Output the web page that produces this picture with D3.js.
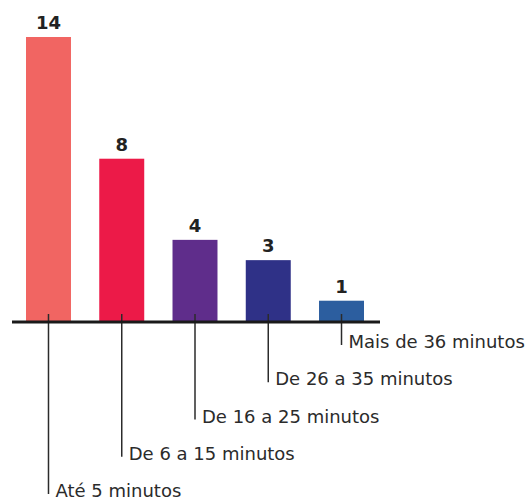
<html>
<head>
    <meta charset="utf-8">
    <script src="https://d3js.org/d3.v7.min.js"></script>
    <style>
        body { margin: 0; background: #fff; }
        text { font-family: "DejaVu Sans", sans-serif; }
    </style>
</head>
<body>
<div id="chart"></div>
<script>
// data
var categories = ["Até 5 minutos", "De 6 a 15 minutos", "De 16 a 25 minutos", "De 26 a 35 minutos", "Mais de 36 minutos"];
var values = [14, 8, 4, 3, 1];
var colors = ["#f16562", "#ec1a48", "#5f2d8b", "#2f3187", "#2c5e9f"];

var width = 530, height = 500;

var svg = d3.select("#chart")
    .append("svg")
    .attr("width", width)
    .attr("height", height);

var x = d3.scaleBand()
    .domain(categories)
    .range([26, 364])
    .paddingInner(0.386)
    .paddingOuter(0);

var y = d3.scaleLinear()
    .domain([0, 14])
    .range([321, 37]);

// row for each category label (last category on top)
var labelY = d3.scalePoint()
    .domain(categories.slice().reverse())
    .range([348, 497]);

var data = categories.map(function(c, i) {
    return {cat: c, value: values[i], color: colors[i]};
});

// bars
svg.selectAll("rect.bar")
    .data(data)
    .enter()
    .append("rect")
    .attr("class", "bar")
    .attr("x", function(d) { return x(d.cat); })
    .attr("y", function(d) { return y(d.value); })
    .attr("width", x.bandwidth())
    .attr("height", function(d) { return y(0) - y(d.value); })
    .style("fill", function(d) { return d.color; });

// value labels
svg.selectAll("text.value")
    .data(data)
    .enter()
    .append("text")
    .attr("class", "value")
    .attr("x", function(d) { return x(d.cat) + x.bandwidth() / 2; })
    .attr("y", function(d) { return y(d.value) - 8; })
    .attr("text-anchor", "middle")
    .style("font-size", "18px")
    .style("font-weight", "bold")
    .style("fill", "#222")
    .text(function(d) { return d.value; });

// leader lines
svg.selectAll("line.leader")
    .data(data)
    .enter()
    .append("line")
    .attr("class", "leader")
    .attr("x1", function(d) { return x(d.cat) + x.bandwidth() / 2; })
    .attr("x2", function(d) { return x(d.cat) + x.bandwidth() / 2; })
    .attr("y1", y(0) - 7)
    .attr("y2", function(d) { return labelY(d.cat) - 3; })
    .style("stroke", "#2b2b2b")
    .style("stroke-width", 1.5);

// baseline
svg.append("line")
    .attr("x1", 12)
    .attr("x2", 380)
    .attr("y1", y(0) + 1)
    .attr("y2", y(0) + 1)
    .style("stroke", "#1a1a1a")
    .style("stroke-width", 3);

// category labels
svg.selectAll("text.cat")
    .data(data)
    .enter()
    .append("text")
    .attr("class", "cat")
    .attr("x", function(d) { return x(d.cat) + x.bandwidth() / 2 + 7; })
    .attr("y", function(d) { return labelY(d.cat); })
    .style("font-size", "18px")
    .style("fill", "#2b2b2b")
    .text(function(d) { return d.cat; });
</script>
</body>
</html>
